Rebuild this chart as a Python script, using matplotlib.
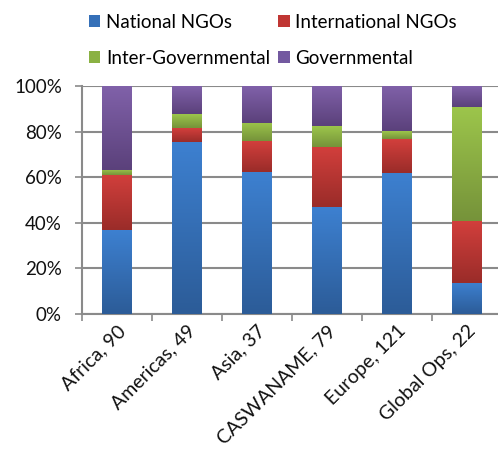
import numpy as np
import matplotlib.pyplot as plt
from matplotlib.colors import LinearSegmentedColormap
from matplotlib.ticker import FixedLocator
from matplotlib.transforms import ScaledTranslation

plt.rcParams['font.family'] = ['Lato', 'DejaVu Sans']

regiones = ["Africa", "Americas", "Asia", "CASWANAME", "Europe", "Global Ops"]
series = ["National NGOs", "International NGOs", "Inter-Governmental", "Governmental"]

# conteos por region
national = [33, 37, 23, 37, 75, 3]
international = [22, 3, 5, 21, 18, 6]
inter_gov = [2, 3, 3, 7, 4, 11]
governmental = [33, 6, 6, 14, 24, 2]

# colores (arriba claro, abajo oscuro)
claros = ["#3d80d0", "#d23f3c", "#9cc54b", "#8061a9"]
oscuros = ["#2c5c98", "#9a2c29", "#76933a", "#5b417b"]
leyenda_col = ["#3570b8", "#c03633", "#8ab143", "#7359a0"]

conteos = np.array([national, international, inter_gov, governmental], dtype=float)
totales = conteos.sum(axis=0)
porcentajes = conteos / totales * 100
etiquetas = [f"{r}, {int(t)}" for r, t in zip(regiones, totales)]

fig = plt.figure(figsize=(4.98, 4.49), dpi=100)
ax = fig.add_axes([82 / 498, 135 / 449, 416 / 498, 228 / 449])

x = np.arange(len(regiones))
ancho = 0.42
gradiente = np.linspace(1, 0, 64).reshape(-1, 1)

base = np.zeros(len(regiones))
for i, nombre in enumerate(series):
    cmap = LinearSegmentedColormap.from_list(nombre, [oscuros[i], claros[i]])
    barras = ax.bar(x, porcentajes[i], ancho, bottom=base, color="none",
                    edgecolor="none", zorder=3)
    for b in barras:
        x0, y0 = b.get_x(), b.get_y()
        w, h = b.get_width(), b.get_height()
        img = ax.imshow(gradiente, cmap=cmap, vmin=0, vmax=1, aspect="auto",
                        extent=(x0, x0 + w, y0, y0 + h), zorder=3,
                        interpolation="bilinear")
        img.set_clip_path(b)
    base = base + porcentajes[i]

ax.set_xlim(-0.5, 5.45)
ax.set_ylim(0, 100)

ax.set_yticks(np.arange(0, 101, 20))
ax.set_yticklabels([f"{v}%" for v in range(0, 101, 20)], fontsize=13.5,
                   color="#111111")
ax.yaxis.grid(True, color="#8a8a8a", linewidth=1.5, zorder=0)
ax.set_axisbelow(True)

ax.set_xticks(x)
ax.set_xticklabels(etiquetas, rotation=45, ha="right", rotation_mode="anchor",
                   fontsize=14, color="#111111")
desplazamiento = ScaledTranslation(10 / 72, 0, fig.dpi_scale_trans)
for t in ax.get_xticklabels():
    t.set_transform(t.get_transform() + desplazamiento)
ax.xaxis.set_minor_locator(FixedLocator(np.arange(-0.5, 6, 1)))
ax.tick_params(axis="x", which="major", length=0, pad=6)
ax.tick_params(axis="x", which="minor", length=5, color="#8a8a8a", width=1.2)
ax.tick_params(axis="y", length=5, color="#8a8a8a", width=1.2, pad=9.5)

for lado in ["top", "right"]:
    ax.spines[lado].set_visible(False)
for lado in ["left", "bottom"]:
    ax.spines[lado].set_color("#8a8a8a")
    ax.spines[lado].set_linewidth(1.5)

# leyenda en dos columnas, llenada por filas
orden = [0, 2, 1, 3]
handles = [plt.Rectangle((0, 0), 1, 1, facecolor=leyenda_col[k]) for k in orden]
fig.legend(handles, [series[k] for k in orden], loc="upper left",
           bbox_to_anchor=(89 / 498, 1 - 14 / 449), ncol=2, frameon=False,
           fontsize=13.5, handlelength=0.6, handleheight=0.6,
           handletextpad=0.3, columnspacing=0.45, labelspacing=1.0,
           borderpad=0, borderaxespad=0)

fig.savefig("out.png", dpi=100)
